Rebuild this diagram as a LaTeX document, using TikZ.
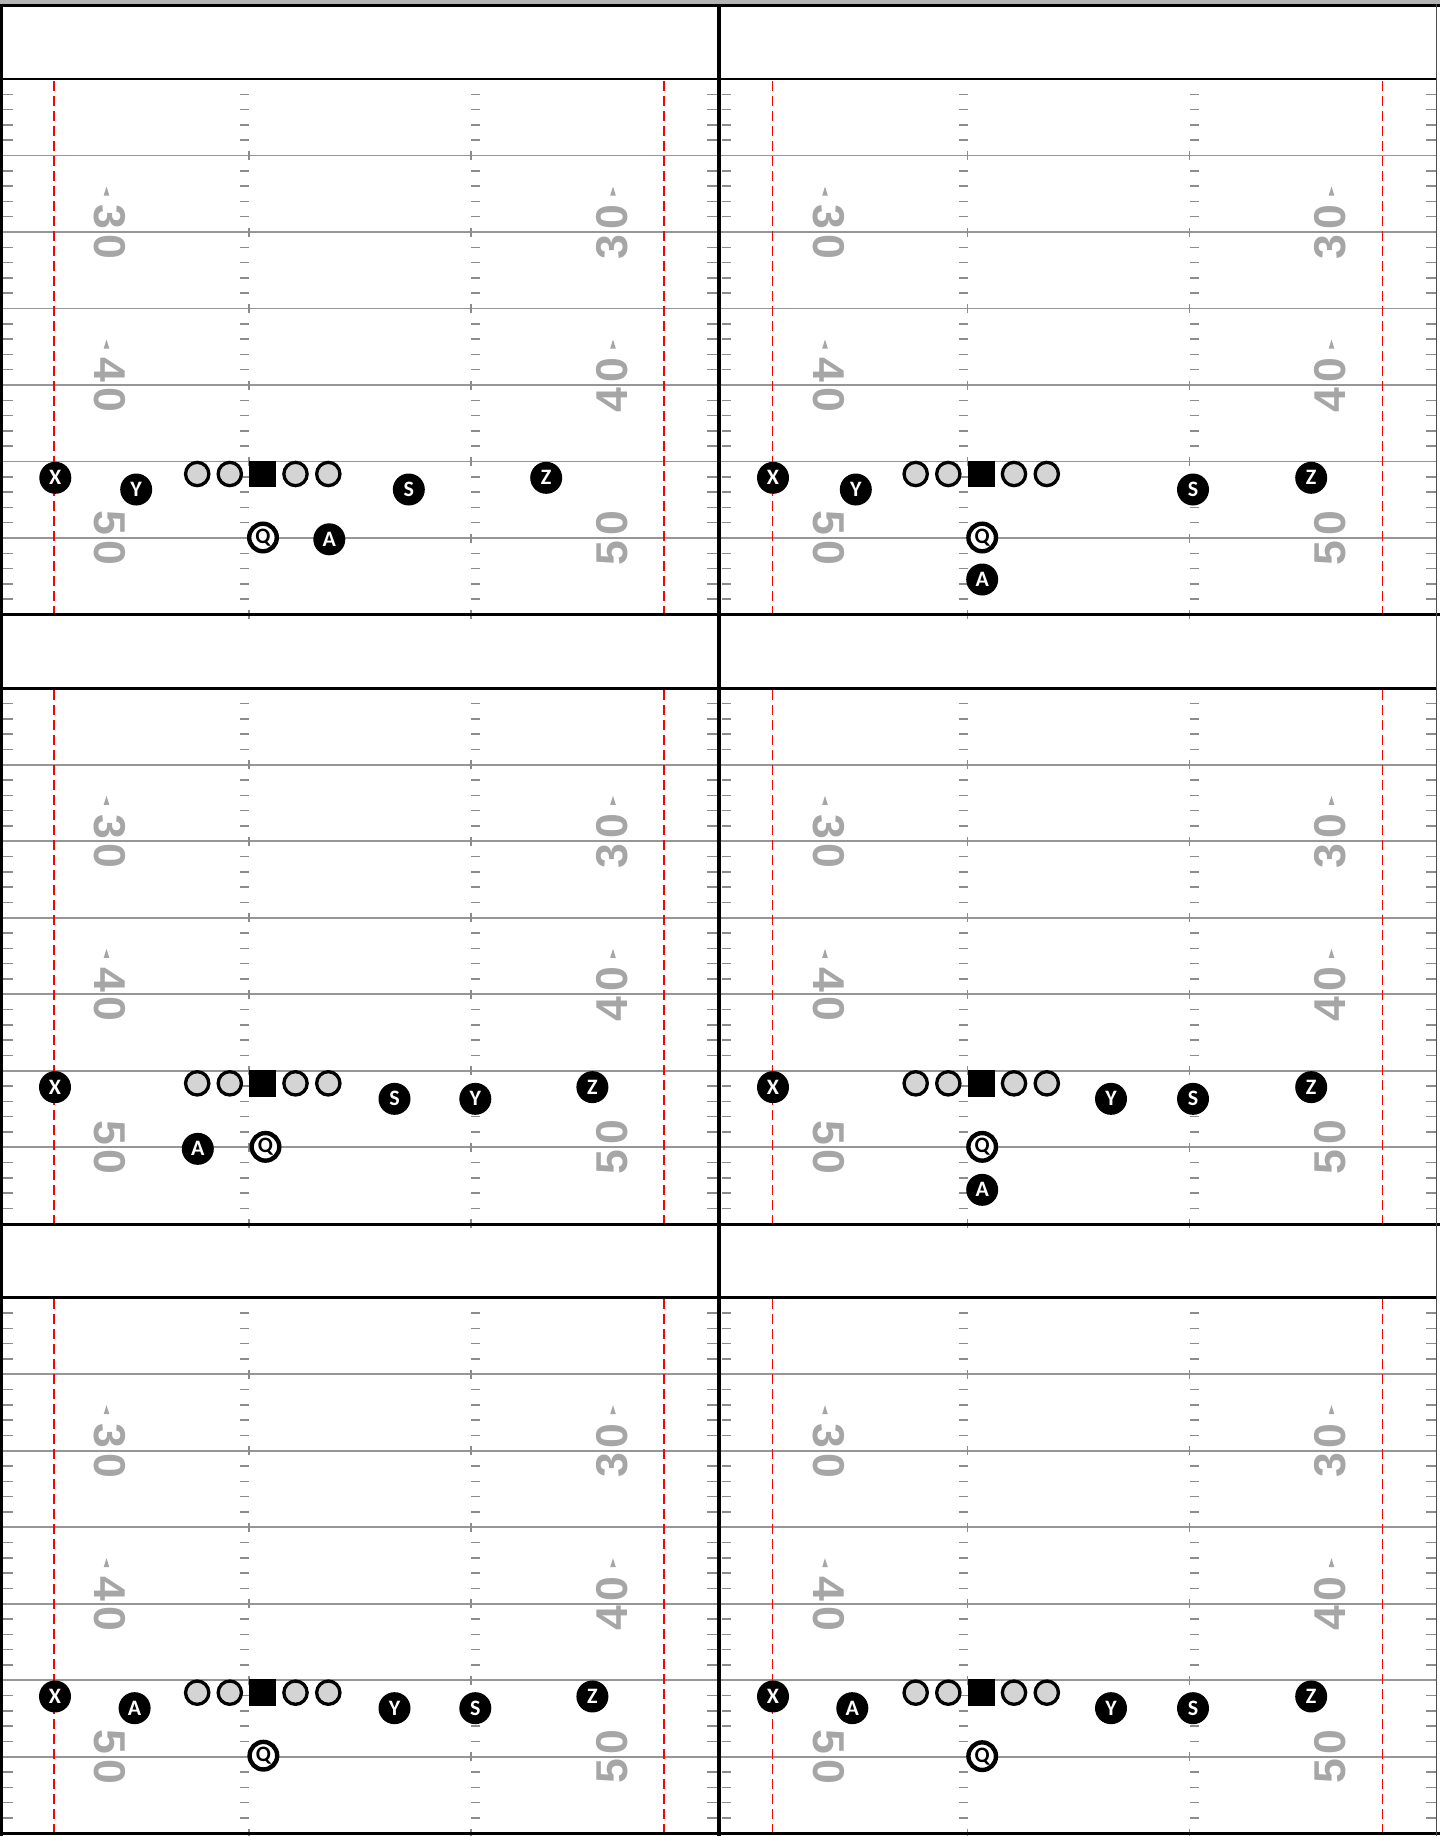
\documentclass[tikz,border=0pt]{standalone}
\usepackage{fontspec}
\setmainfont{Liberation Sans}
\newfontfamily\plfont{Carlito}
\definecolor{numgray}{RGB}{166,166,166}
\definecolor{ylgray}{RGB}{150,150,150}
\definecolor{tkgray}{RGB}{140,140,140}
\definecolor{lmgray}{RGB}{212,212,212}
\definecolor{topgray}{RGB}{180,180,180}
\newcommand\olinemen[1]{%
  \node[lineman] (#1lt) at (197.2,468.5) {};
  \node[lineman] (#1lg) at (229.8,468.5) {};
  \node[cbox]    (#1c)  at (262.7,468.5) {};
  \node[lineman] (#1rg) at (295.5,468.5) {};
  \node[lineman] (#1rt) at (328.3,468.5) {};}
\begin{document}
\begin{tikzpicture}[x=0.5pt,y=-0.5pt,
  yardline/.style={draw=ylgray, line width=0.85pt},
  tickmark/.style={draw=tkgray, line width=0.75pt},
  redline/.style={draw=red, line width=0.8pt, dash pattern=on 5pt off 2.5pt},
  ydnum/.style={text=numgray, inner sep=0pt, font=\bfseries\fontsize{22.3}{22.3}\selectfont},
  border/.style={draw=black, line width=1.6pt},
  lineman/.style={circle, draw=black, fill=lmgray, line width=1.65pt, minimum size=11.65pt, inner sep=0pt},
  cbox/.style={rectangle, fill=black, minimum size=13.3pt, inner sep=0pt},
  player/.style={circle, fill=black, text=white, minimum size=16pt, inner sep=0pt, font=\plfont\bfseries\fontsize{11}{11}\selectfont},
  qb/.style={circle, draw=black, fill=white, text=black, line width=2.2pt, minimum size=13.8pt, inner sep=0pt, font=\plfont\bfseries\fontsize{11}{11}\selectfont}]
\useasboundingbox (0,0) rectangle (1440,1836);
\fill[white] (0,0) rectangle (1440,1836);
% ---------- fields ----------
\foreach \r in {0,1,2}{
 \foreach \c in {0,1}{
  \pgfmathsetmacro\xo{\c*718.5}
  \pgfmathsetmacro\yo{5.5+\r*609.33}
  \begin{scope}[shift={(\xo,\yo)}]
   % yard lines
   \foreach \k in {1,...,6}{
     \pgfmathsetmacro\ly{73.5+76.5*\k}
     \draw[yardline] (2,\ly) -- (717.5,\ly);
   }
   % yard ticks
   \foreach \k in {0,...,6}{
    \foreach \j in {1,...,4}{
     \pgfmathsetmacro\ty{73.5+76.5*\k+15.3*\j}
     \draw[tickmark] (3.3,\ty) -- (12.7,\ty);
     \draw[tickmark] (240,\ty) -- (249,\ty);
     \draw[tickmark] (471,\ty) -- (480,\ty);
     \draw[tickmark] (707,\ty) -- (717,\ty);
    }
   }
   \foreach \k in {1,...,7}{
     \pgfmathsetmacro\ly{73.5+76.5*\k}
     \draw[tickmark] (249,\ly-4.5) -- (249,\ly+4.5);
     \draw[tickmark] (471,\ly-4.5) -- (471,\ly+4.5);
   }
   % red dashed lines
   \draw[redline] (54,75) -- (54,608);
   \draw[redline] (664,75) -- (664,608);
   % yard numbers
   \node[ydnum, rotate=-90] (nL30) at (110.2,226.5) {3\kern2.5pt 0};
   \node[ydnum, rotate=-90] (nL40) at (110.2,379.5) {4\kern2.5pt 0};
   \node[ydnum, rotate=-90] (nL50) at (110.2,532.5) {5\kern2.5pt 0};
   \node[ydnum, rotate=90] (nR30) at (611.8,226.5) {3\kern2.5pt 0};
   \node[ydnum, rotate=90] (nR40) at (611.8,379.5) {4\kern2.5pt 0};
   \node[ydnum, rotate=90] (nR50) at (611.8,532.5) {5\kern2.5pt 0};
   % arrows
   \foreach \ny in {226.5,379.5}{
     \pgfmathsetmacro\ay{\ny-41}
     \fill[numgray] (106.5,\ay-4.5) -- (109.3,\ay+4.5) -- (103.7,\ay+4.5) -- cycle;
     \fill[numgray] (613,\ay-4.5) -- (615.8,\ay+4.5) -- (610.2,\ay+4.5) -- cycle;
   }
  \end{scope}
 }
}
% ---------- borders ----------
\fill[topgray] (0,0) rectangle (1440,3.5);
\foreach \r in {0,1,2}{
  \pgfmathsetmacro\yo{5.5+\r*609.33}
  \draw[border] (0,\yo) -- (1440,\yo);
  \draw[border, line width=1.4pt] (0,\yo+73.5) -- (1437,\yo+73.5);
}
\draw[border] (0,1833.5) -- (1440,1833.5);
\draw[black, line width=1.65pt] (1.6,3.5) -- (1.6,1836);
\draw[black, line width=2.2pt] (719,3.5) -- (719,1836);
\draw[black!70, line width=0.8pt] (1436.5,3.5) -- (1436.5,1836);
% ---------- panel 1 ----------
\begin{scope}[shift={(0,5.5)}]
 \olinemen{pa}
 \node[player] (paX) at (55.3,472.3) {X};
 \node[player] (paY) at (136.2,484) {Y};
 \node[player] (paS) at (408.8,484) {S};
 \node[player] (paZ) at (546.2,472.3) {Z};
 \node[qb]     (paQ) at (263,532) {Q};
 \node[player] (paA) at (329.3,533.8) {A};
\end{scope}
% ---------- panel 2 ----------
\begin{scope}[shift={(718.5,5.5)}]
 \olinemen{pb}
 \node[player] (pbX) at (54.5,472.3) {X};
 \node[player] (pbY) at (137.3,484) {Y};
 \node[player] (pbS) at (474.5,484) {S};
 \node[player] (pbZ) at (592.7,472.3) {Z};
 \node[qb]     (pbQ) at (263.7,532) {Q};
 \node[player] (pbA) at (263.7,574) {A};
\end{scope}
% ---------- panel 3 ----------
\begin{scope}[shift={(0,614.83)}]
 \olinemen{pc}
 \node[player] (pcX) at (55,472.3) {X};
 \node[player] (pcS) at (394.5,484) {S};
 \node[player] (pcY) at (475.3,484) {Y};
 \node[player] (pcZ) at (592.4,472.3) {Z};
 \node[player] (pcA) at (197.8,534) {A};
 \node[qb]     (pcQ) at (265.5,532) {Q};
\end{scope}
% ---------- panel 4 ----------
\begin{scope}[shift={(718.5,614.83)}]
 \olinemen{pd}
 \node[player] (pdX) at (54.5,472.3) {X};
 \node[player] (pdY) at (392.5,484) {Y};
 \node[player] (pdS) at (474.5,484) {S};
 \node[player] (pdZ) at (592.7,472.3) {Z};
 \node[qb]     (pdQ) at (263.7,532) {Q};
 \node[player] (pdA) at (263.7,575) {A};
\end{scope}
% ---------- panel 5 ----------
\begin{scope}[shift={(0,1224.16)}]
 \olinemen{pe}
 \node[player] (peX) at (55,472.3) {X};
 \node[player] (peA) at (134.6,484) {A};
 \node[player] (peY) at (394.5,484) {Y};
 \node[player] (peS) at (475.3,484) {S};
 \node[player] (peZ) at (592.4,472.3) {Z};
 \node[qb]     (peQ) at (263.4,531.5) {Q};
\end{scope}
% ---------- panel 6 ----------
\begin{scope}[shift={(718.5,1224.16)}]
 \olinemen{pf}
 \node[player] (pfX) at (54.5,472.3) {X};
 \node[player] (pfA) at (133.8,484) {A};
 \node[player] (pfY) at (392.5,484) {Y};
 \node[player] (pfS) at (474.5,484) {S};
 \node[player] (pfZ) at (592.7,472.3) {Z};
 \node[qb]     (pfQ) at (263.7,532) {Q};
\end{scope}
\end{tikzpicture}
\end{document}
